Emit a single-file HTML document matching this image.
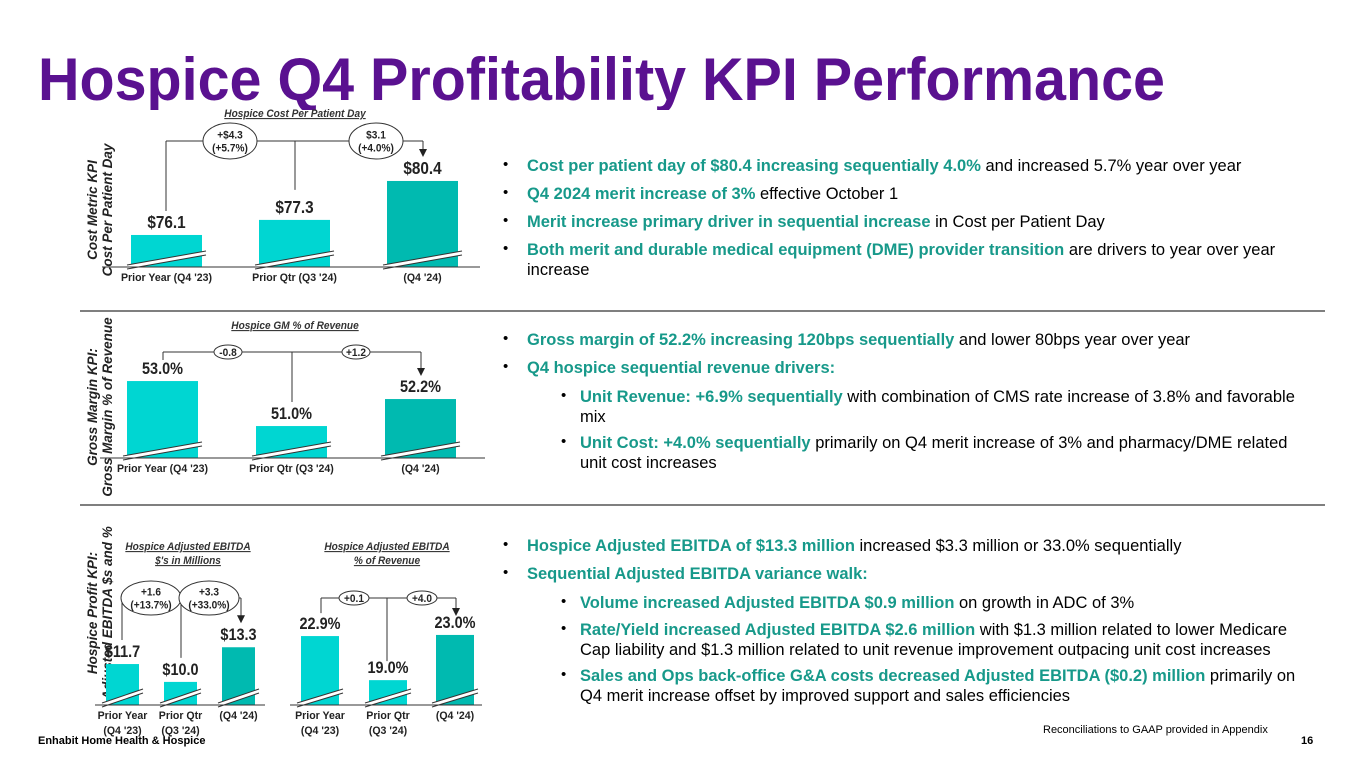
<!DOCTYPE html>
<html><head><meta charset="utf-8"><style>
body{margin:0;width:1365px;height:768px;background:#fff;position:relative;overflow:hidden;font-family:"Liberation Sans",Arial,sans-serif;color:#000}
.t{position:absolute;font-size:16.5px;line-height:20px;white-space:nowrap}
.g{color:#17998a;font-weight:bold}
.b{position:absolute;font-size:15px}
.sep{position:absolute;left:80px;width:1245px;height:2px;background:#7f7f7f}
.yl{position:absolute;transform:rotate(-90deg);transform-origin:center;font-weight:bold;font-style:italic;font-size:13.5px;line-height:15px;text-align:center;white-space:nowrap;color:#222}
</style></head><body>
<svg style="position:absolute;left:0;top:0" width="1365" height="110"><text x="38" y="100" font-family="Liberation Sans,Arial,sans-serif" font-weight="bold" font-size="60" fill="#5a1190" textLength="1127" lengthAdjust="spacingAndGlyphs">Hospice Q4 Profitability KPI Performance</text></svg>

<div class="sep" style="top:310px"></div>
<div class="sep" style="top:504px"></div>

<div class="yl" style="left:20px;top:195px;width:160px">Cost Metric KPI<br>Cost Per Patient Day</div>
<div class="yl" style="left:10px;top:392px;width:180px">Gross Margin KPI:<br>Gross Margin % of Revenue</div>
<div class="yl" style="left:-5px;top:598px;width:210px">Hospice Profit KPI:<br>Adjusted EBITDA $s and %</div>

<svg id="charts" style="position:absolute;left:0;top:0" width="1365" height="768" font-family="Liberation Sans,Arial,sans-serif"></svg>

<div>
<div class="b" style="left:503px;top:156px">•</div><div class="t" style="left:527px;top:156px"><span class="g">Cost per patient day of $80.4 increasing sequentially 4.0%</span> and increased 5.7% year over year</div>
<div class="b" style="left:503px;top:184px">•</div><div class="t" style="left:527px;top:184px"><span class="g">Q4 2024 merit increase of 3%</span> effective October 1</div>
<div class="b" style="left:503px;top:212px">•</div><div class="t" style="left:527px;top:212px"><span class="g">Merit increase primary driver in sequential increase</span> in Cost per Patient Day</div>
<div class="b" style="left:503px;top:240px">•</div><div class="t" style="left:527px;top:240px"><span class="g">Both merit and durable medical equipment (DME) provider transition</span> are drivers to year over year<br>increase</div>
</div>
<div>
<div class="b" style="left:503px;top:330px">•</div><div class="t" style="left:527px;top:330px"><span class="g">Gross margin of 52.2% increasing 120bps sequentially</span> and lower 80bps year over year</div>
<div class="b" style="left:503px;top:358px">•</div><div class="t" style="left:527px;top:358px"><span class="g">Q4 hospice sequential revenue drivers:</span></div>
<div class="b" style="left:561px;top:387px">•</div><div class="t" style="left:580px;top:387px"><span class="g">Unit Revenue: +6.9% sequentially</span> with combination of CMS rate increase of 3.8% and favorable<br>mix</div>
<div class="b" style="left:561px;top:433px">•</div><div class="t" style="left:580px;top:433px"><span class="g">Unit Cost: +4.0% sequentially</span> primarily on Q4 merit increase of 3% and pharmacy/DME related<br>unit cost increases</div>
</div>
<div>
<div class="b" style="left:503px;top:536px">•</div><div class="t" style="left:527px;top:536px"><span class="g">Hospice Adjusted EBITDA of $13.3 million</span> increased $3.3 million or 33.0% sequentially</div>
<div class="b" style="left:503px;top:564px">•</div><div class="t" style="left:527px;top:564px"><span class="g">Sequential Adjusted EBITDA variance walk:</span></div>
<div class="b" style="left:561px;top:593px">•</div><div class="t" style="left:580px;top:593px"><span class="g">Volume increased Adjusted EBITDA $0.9 million</span> on growth in ADC of 3%</div>
<div class="b" style="left:561px;top:620px">•</div><div class="t" style="left:580px;top:620px"><span class="g">Rate/Yield increased Adjusted EBITDA $2.6 million</span> with $1.3 million related to lower Medicare<br>Cap liability and $1.3 million related to unit revenue improvement outpacing unit cost increases</div>
<div class="b" style="left:561px;top:666px">•</div><div class="t" style="left:580px;top:666px"><span class="g">Sales and Ops back-office G&amp;A costs decreased Adjusted EBITDA ($0.2) million</span> primarily on<br>Q4 merit increase offset by improved support and sales efficiencies</div>
</div>

<div style="position:absolute;left:38px;top:735px;font-size:11px;font-weight:bold">Enhabit Home Health &amp; Hospice</div>
<div style="position:absolute;left:1043px;top:724px;font-size:11px">Reconciliations to GAAP provided in Appendix</div>
<div style="position:absolute;left:1301px;top:735px;font-size:11px;font-weight:bold">16</div>

<script>
const cpdCategories = ["Prior Year (Q4 '23)", "Prior Qtr (Q3 '24)", "(Q4 '24)"];
const cpdValues = [76.1, 77.3, 80.4];
const cpdLabels = ["$76.1", "$77.3", "$80.4"];
const cpdDeltas = [["+$4.3","(+5.7%)"], ["$3.1","(+4.0%)"]];

const gmCategories = ["Prior Year (Q4 '23)", "Prior Qtr (Q3 '24)", "(Q4 '24)"];
const gmValues = [53.0, 51.0, 52.2];
const gmLabels = ["53.0%", "51.0%", "52.2%"];
const gmDeltas = [["-0.8"], ["+1.2"]];

const ebCategories = [["Prior Year","(Q4 '23)"], ["Prior Qtr","(Q3 '24)"], ["(Q4 '24)"]];
const ebValues = [11.7, 10.0, 13.3];
const ebLabels = ["$11.7", "$10.0", "$13.3"];
const ebDeltas = [["+1.6","(+13.7%)"], ["+3.3","(+33.0%)"]];

const epCategories = [["Prior Year","(Q4 '23)"], ["Prior Qtr","(Q3 '24)"], ["(Q4 '24)"]];
const epValues = [22.9, 19.0, 23.0];
const epLabels = ["22.9%", "19.0%", "23.0%"];
const epDeltas = [["+0.1"], ["+4.0"]];

const svg = document.getElementById('charts');
const NS = 'http://www.w3.org/2000/svg';
function mk(tag, attrs, parent){const e=document.createElementNS(NS,tag);for(const k in attrs)e.setAttribute(k,attrs[k]);(parent||svg).appendChild(e);return e;}
function txt(x,y,s,size,opts,parent,sx){const e=mk('text',Object.assign({x:x,y:y,'font-size':size,'text-anchor':'middle',fill:'#222'},opts||{}),parent);e.textContent=s;
  if(sx)e.setAttribute('transform',`translate(${x} 0) scale(${sx} 1) translate(${-x} 0)`);return e;}

function chart(cfg, cats, vals, labels, deltas){
  const g = mk('g', {});
  
  
  const y = v => cfg.base - (v - cfg.v0) * cfg.k;
  cfg.title.forEach((t,i)=>{const e=txt(cfg.tx, cfg.ty+i*14, t, 11, {'font-weight':'bold','font-style':'italic','text-decoration':'underline','fill':'#333'}, g, 0.92);
    
    });
  const tops=[];
  vals.forEach((v,i)=>{
    const x=cfg.xs[i], w=cfg.bw, top=y(v);
    tops.push(top);
    const r=mk('rect',{x:x,y:top,width:w,height:cfg.base-top,fill:i===2?'#00bab0':'#00d6d2'},g);
    
    
    const by=cfg.base-10;
    mk('polygon',{points:`${x-4},${by+8} ${x+w+4},${by-6} ${x+w+4},${by-2} ${x-4},${by+12}`,fill:'#fff'},g);
    mk('line',{x1:x-4,y1:by+8,x2:x+w+4,y2:by-6,stroke:'#333','stroke-width':1},g);
    mk('line',{x1:x-4,y1:by+12,x2:x+w+4,y2:by-2,stroke:'#333','stroke-width':1},g);
    const lb=txt(x+w/2, top-7, labels[i], cfg.vs, {'font-weight':'bold'}, g, 0.85);
    
    
    const c=Array.isArray(cats[i])?cats[i]:[cats[i]];
    c.forEach((s,j)=>{const e=txt(x+w/2, cfg.base+14+j*15, s, 11.5, {'font-weight':'bold'}, g, 0.92);
      
      });
  });
  mk('line',{x1:cfg.ax0,y1:cfg.base,x2:cfg.ax1,y2:cfg.base,stroke:'#333','stroke-width':1},g);
  const ly=cfg.ly;
  mk('line',{x1:cfg.vx[0],y1:ly,x2:cfg.vx[2],y2:ly,stroke:'#333'},g);
  mk('line',{x1:cfg.vx[0],y1:ly,x2:cfg.vx[0],y2:tops[0]-cfg.gap0,stroke:'#333'},g);
  mk('line',{x1:cfg.vx[1],y1:ly,x2:cfg.vx[1],y2:tops[1]-cfg.gap1,stroke:'#333'},g);
  mk('line',{x1:cfg.vx[2],y1:ly,x2:cfg.vx[2],y2:tops[2]-cfg.gap2-7,stroke:'#333'},g);
  mk('polygon',{points:`${cfg.vx[2]-4},${tops[2]-cfg.gap2-8} ${cfg.vx[2]+4},${tops[2]-cfg.gap2-8} ${cfg.vx[2]},${tops[2]-cfg.gap2}`,fill:'#222'},g);
  deltas.forEach((d,i)=>{
    const ex=cfg.ex[i];
    const el=mk('ellipse',{cx:ex,cy:ly,rx:cfg.erx,ry:cfg.ery,fill:'#fff',stroke:'#333'},g);
    
    
    d.forEach((s,j)=>txt(ex, ly+4+(j-(d.length-1)/2)*13, s, 11, {'font-weight':'bold'}, g, 0.92));
  });
}

chart({name:'cost-per-patient-day-chart',title:['Hospice Cost Per Patient Day'],tx:295,ty:117,
  base:267,v0:73.55,k:12.56,xs:[131,259,387],bw:71,vs:18,ax0:102,ax1:480,
  ly:141,vx:[166,295,423],gap0:24,gap1:30,gap2:24,ex:[230,376],erx:27,ery:18},
  cpdCategories,cpdValues,cpdLabels,cpdDeltas);

chart({name:'gross-margin-chart',title:['Hospice GM % of Revenue'],tx:295,ty:329,
  base:458,v0:49.58,k:22.5,xs:[127,256,385],bw:71,vs:17,ax0:100,ax1:485,
  ly:352,vx:[163,292,421],gap0:21,gap1:24,gap2:23,ex:[228,356],erx:14,ery:7},
  gmCategories,gmValues,gmLabels,gmDeltas);

chart({name:'adjusted-ebitda-dollars-chart',title:['Hospice Adjusted EBITDA',"$'s in Millions"],tx:188,ty:550,
  base:705,v0:7.8,k:10.5,xs:[106,164,222],bw:33,vs:17,ax0:95,ax1:265,
  ly:598,vx:[122,181,241],gap0:24,gap1:24,gap2:24,ex:[151,209],erx:30,ery:17},
  ebCategories,ebValues,ebLabels,ebDeltas);

chart({name:'adjusted-ebitda-percent-chart',title:['Hospice Adjusted EBITDA','% of Revenue'],tx:387,ty:550,
  base:705,v0:16.8,k:11.3,xs:[301,369,436],bw:38,vs:17,ax0:290,ax1:482,
  ly:598,vx:[321,387,456],gap0:23,gap1:19,gap2:19,ex:[354,422],erx:15,ery:7},
  epCategories,epValues,epLabels,epDeltas);
</script>
</body></html>
